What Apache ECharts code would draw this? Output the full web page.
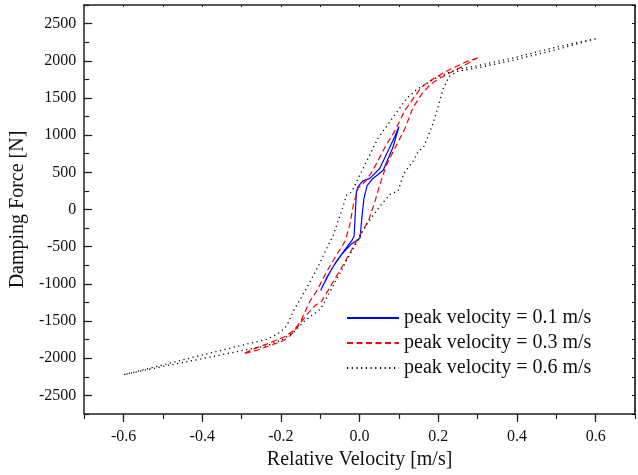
<!DOCTYPE html>
<html>
<head>
<meta charset="utf-8">
<script src="https://cdn.jsdelivr.net/npm/echarts@6/dist/echarts.min.js"></script>
<style>
html,body{margin:0;padding:0;background:#fff;}
#chart{width:638px;height:475px;}
</style>
</head>
<body>
<div id="chart"></div>
<script>
// velocity [m/s], force [N] ; each loop starts at the positive peak
var loop01 = [
    [0.100,1115],[0.090,990],[0.077,840],[0.051,551],[0.026,418],[0.008,382],[-0.004,307],[-0.008,240],
    [-0.011,-50],[-0.014,-360],[-0.020,-420],[-0.033,-510],[-0.058,-690],[-0.083,-910],[-0.099,-1090],
    [-0.090,-990],[-0.070,-790],[-0.045,-600],[-0.020,-460],[-0.005,-410],[0.001,-383],[0.006,-100],
    [0.011,151],[0.019,320],[0.034,418],[0.060,529],[0.085,840],[0.100,1115]
];
var loop03 = [
    [0.300,2040],[0.270,1985],[0.240,1910],[0.210,1830],[0.190,1765],[0.170,1700],[0.155,1630],[0.140,1520],
    [0.115,1333],[0.088,1041],[0.067,862],[0.034,529],[0.015,380],[-0.004,284],[-0.016,61],[-0.025,-206],
    [-0.037,-427],[-0.058,-606],[-0.083,-828],[-0.109,-1095],[-0.126,-1230],[-0.151,-1518],[-0.168,-1629],
    [-0.193,-1718],[-0.235,-1807],[-0.269,-1874],[-0.296,-1941],
    [-0.260,-1890],[-0.220,-1815],[-0.193,-1762],[-0.175,-1690],[-0.155,-1560],[-0.135,-1420],[-0.115,-1300],
    [-0.096,-1229],[-0.071,-1006],[-0.046,-784],[-0.020,-539],[0.001,-339],[0.022,-160],[0.039,107],
    [0.051,328],[0.068,595],[0.089,818],[0.115,1085],[0.136,1375],[0.161,1575],[0.180,1680],[0.200,1755],
    [0.230,1840],[0.260,1920],[0.300,2040]
];
var loop06 = [
    [0.600,2296],[0.484,2165],[0.400,2050],[0.333,1972],[0.300,1935],[0.250,1885],[0.220,1830],[0.190,1760],
    [0.173,1700],[0.147,1620],[0.122,1508],[0.088,1263],[0.046,952],[0.013,595],[-0.021,230],[-0.033,195],
    [-0.042,40],[-0.058,-206],[-0.068,-360],[-0.079,-472],[-0.105,-761],[-0.135,-1060],[-0.168,-1362],
    [-0.185,-1562],[-0.202,-1651],[-0.235,-1745],[-0.320,-1852],[-0.404,-1962],[-0.488,-2074],[-0.572,-2185],
    [-0.600,-2221],
    [-0.500,-2110],[-0.404,-2010],[-0.320,-1920],[-0.235,-1830],[-0.193,-1740],[-0.168,-1650],[-0.140,-1500],
    [-0.100,-1340],[-0.092,-1273],[-0.054,-895],[-0.025,-606],[0.018,-200],[0.051,40],[0.078,205],[0.098,250],
    [0.112,480],[0.136,650],[0.150,790],[0.162,830],[0.172,960],[0.186,1150],[0.200,1390],[0.212,1620],
    [0.228,1790],[0.250,1860],[0.300,1905],[0.400,2020],[0.500,2150],[0.600,2296]
];
var seriesNames = ["peak velocity = 0.1 m/s","peak velocity = 0.3 m/s","peak velocity = 0.6 m/s"];
var xMajorTicks = [-0.6,-0.4,-0.2,0.0,0.2,0.4,0.6];
var yMajorTicks = [-2500,-2000,-1500,-1000,-500,0,500,1000,1500,2000,2500];

var font = "'Liberation Serif', 'Times New Roman', serif";
var axisColor = "#222";

function xLabel(v){
    var k = Math.round(v*10);
    if (k % 2 !== 0 || Math.abs(k) > 6) return "";
    return (k/10).toFixed(1);
}
function yLabel(v){
    if (Math.round(v) % 500 !== 0 || Math.abs(v) > 2500) return "";
    return Math.round(v) + "";
}

function lineSeries(name, data, color, type, width){
    return {
        name: name,
        type: "line",
        data: data,
        xAxisIndex: 0,
        yAxisIndex: 0,
        showSymbol: false,
        symbol: "none",
        silent: true,
        animation: false,
        lineStyle: {color: color, width: width, type: type},
        itemStyle: {color: color}
    };
}

var option = {
    animation: false,
    grid: {left: 84, right: 2, top: 5, bottom: 57},
    legend: {
        orient: "vertical",
        left: 346,
        top: 308,
        itemWidth: 52,
        itemHeight: 20,
        itemGap: 5,
        padding: 0,
        data: seriesNames,
        itemStyle: {opacity: 0},
        textStyle: {fontFamily: font, fontSize: 20, color: "#111", padding: [0,0,0,0]}
    },
    xAxis: [
        {
            type: "value", position: "bottom", min: -0.7, max: 0.7, interval: 0.1,
            name: "Relative Velocity [m/s]", nameLocation: "middle", nameGap: 36,
            nameTextStyle: {fontFamily: font, fontSize: 20, color: "#111"},
            axisLine: {onZero: false, lineStyle: {color: axisColor, width: 1.5}},
            axisTick: {inside: false, length: 5, lineStyle: {color: axisColor, width: 1.2}},
            axisLabel: {formatter: xLabel, margin: 15, fontFamily: font, fontSize: 16, color: "#111"},
            splitLine: {show: false}
        },
        {
            type: "value", position: "bottom", min: -0.7, max: 0.7, interval: 0.1,
            axisLine: {show: false, onZero: false},
            axisTick: {inside: false, length: 8, customValues: xMajorTicks, lineStyle: {color: axisColor, width: 1.2}},
            axisLabel: {show: false},
            splitLine: {show: false}
        },
        {
            type: "value", position: "top", min: -0.7, max: 0.7, interval: 0.1,
            axisLine: {onZero: false, lineStyle: {color: axisColor, width: 1.5}},
            axisTick: {inside: true, length: 2, lineStyle: {color: axisColor}},
            axisLabel: {show: false},
            splitLine: {show: false}
        }
    ],
    yAxis: [
        {
            type: "value", position: "left", min: -2750, max: 2750, interval: 250,
            name: "Damping Force [N]", nameLocation: "middle", nameGap: 45,
            nameTextStyle: {fontFamily: font, fontSize: 20, color: "#111"},
            axisLine: {onZero: false, lineStyle: {color: axisColor, width: 1.5}},
            axisTick: {inside: true, length: 5, lineStyle: {color: axisColor, width: 1.2}},
            axisLabel: {formatter: yLabel, margin: 8, fontFamily: font, fontSize: 16, color: "#111"},
            splitLine: {show: false}
        },
        {
            type: "value", position: "left", min: -2750, max: 2750, interval: 250,
            axisLine: {show: false, onZero: false},
            axisTick: {inside: true, length: 8, customValues: yMajorTicks, lineStyle: {color: axisColor, width: 1.2}},
            axisLabel: {show: false},
            splitLine: {show: false}
        },
        {
            type: "value", position: "right", min: -2750, max: 2750, interval: 250,
            axisLine: {onZero: false, lineStyle: {color: "#000", width: 1.5}},
            axisTick: {inside: true, length: 3, lineStyle: {color: "#000"}},
            axisLabel: {show: false},
            splitLine: {show: false}
        }
    ],
    series: [
        lineSeries(seriesNames[0], loop01, "#0000ff", "solid", 1.2),
        lineSeries(seriesNames[1], loop03, "#ff0000", [6, 3.5], 1.2),
        lineSeries(seriesNames[2], loop06, "#000000", [1.2, 3.5], 1.3)
    ]
};

var chart = echarts.init(document.getElementById("chart"), null, {renderer: "canvas"});
chart.setOption(option);
</script>
</body>
</html>
